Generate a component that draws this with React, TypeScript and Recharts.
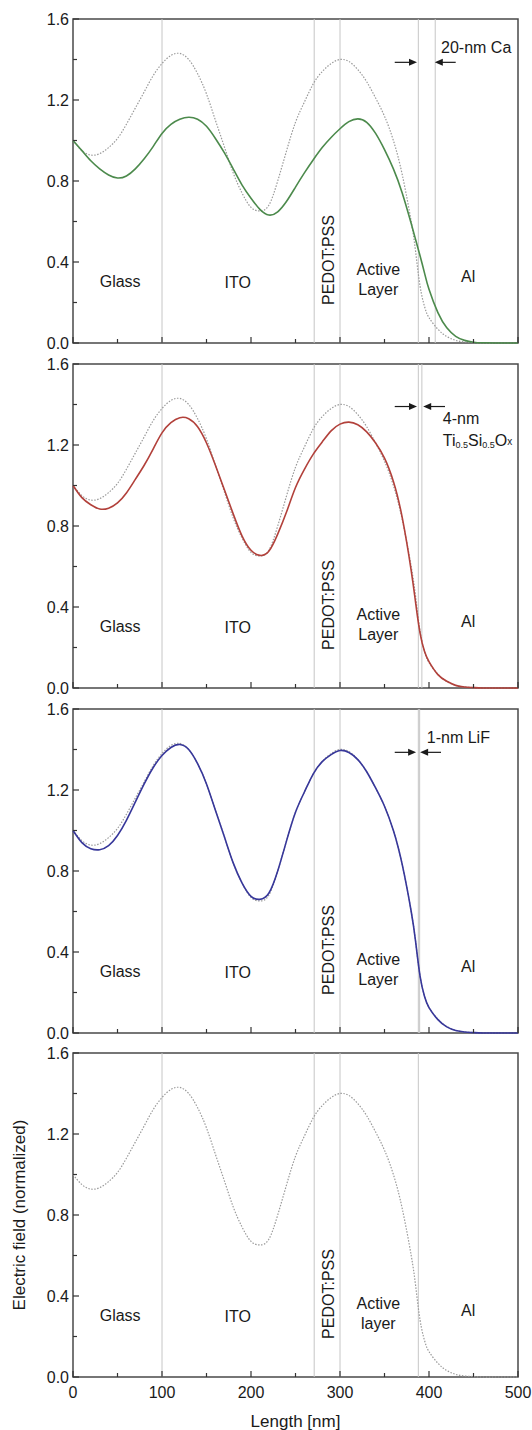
import React from "react";
import { LineChart, Line, XAxis, YAxis, ReferenceLine, ReferenceArea, ReferenceDot } from "recharts";

// position along the stack [nm]
const lengthNm = [
  0, 10, 20, 30, 40, 50, 60, 70, 80, 90, 100, 110, 120, 130, 140, 150, 160, 170, 180, 190, 200,
  210, 220, 230, 240, 250, 260, 270, 280, 290, 300, 310, 320, 330, 340, 350, 360, 370, 380, 385,
  390, 395, 400, 410, 420, 430, 440, 450, 460, 480, 500,
];

// normalized electric field, device without interlayer (dotted reference)
const noInterlayer = [
  1.0, 0.95, 0.928, 0.935, 0.965, 1.01, 1.08, 1.16, 1.24, 1.32, 1.38, 1.42, 1.43, 1.4, 1.33, 1.23,
  1.1, 0.97, 0.84, 0.74, 0.67, 0.652, 0.68, 0.8, 0.95, 1.09, 1.19, 1.28, 1.34, 1.38, 1.4, 1.39,
  1.35, 1.29, 1.21, 1.12, 1.0, 0.83, 0.6, 0.45, 0.28, 0.18, 0.125, 0.068, 0.032, 0.013, 0.005,
  0.002, 0, 0, 0,
];

// 20-nm Ca interlayer
const withCa = [
  1.0, 0.95, 0.9, 0.86, 0.83, 0.815, 0.825, 0.86, 0.91, 0.97, 1.035, 1.08, 1.105, 1.115, 1.105,
  1.07, 1.01, 0.94, 0.86, 0.78, 0.715, 0.66, 0.632, 0.648, 0.7, 0.77, 0.84, 0.905, 0.965, 1.015, 1.058,
  1.093, 1.107, 1.09, 1.035, 0.955, 0.86, 0.74, 0.59, 0.51, 0.43, 0.345, 0.265, 0.15, 0.075, 0.033,
  0.013, 0.004, 0.001, 0, 0,
];

// 4-nm Ti0.5Si0.5Ox interlayer
const withTiSiOx = [
  1.0, 0.94, 0.905, 0.884, 0.888, 0.914, 0.963, 1.03, 1.1, 1.18, 1.26, 1.31, 1.335, 1.33, 1.29,
  1.21, 1.1, 0.98, 0.86, 0.75, 0.68, 0.655, 0.675, 0.76, 0.87, 0.99, 1.08, 1.155, 1.215, 1.27, 1.303,
  1.313, 1.3, 1.265, 1.21, 1.135, 1.02, 0.84, 0.58, 0.42, 0.27, 0.18, 0.13, 0.066, 0.033, 0.013,
  0.005, 0.002, 0, 0, 0,
];

// 1-nm LiF interlayer
const withLiF = [
  1.0, 0.94, 0.91, 0.905, 0.925, 0.975, 1.05, 1.14, 1.23, 1.31, 1.37, 1.41, 1.425, 1.4, 1.33,
  1.23, 1.1, 0.97, 0.84, 0.74, 0.675, 0.66, 0.69, 0.8, 0.95, 1.09, 1.19, 1.28, 1.34, 1.375, 1.395,
  1.385, 1.35, 1.29, 1.21, 1.12, 1.0, 0.83, 0.6, 0.45, 0.28, 0.18, 0.125, 0.066, 0.03, 0.012,
  0.005, 0.002, 0, 0, 0,
];

const xTicks = [0, 50, 100, 150, 200, 250, 300, 350, 400, 450, 500];
const yTicks = [0, 0.2, 0.4, 0.6, 0.8, 1.0, 1.2, 1.4, 1.6];
const layerEdges = [100, 271, 300, 388];

const FONT = "'Liberation Sans', Arial, Helvetica, sans-serif";
const INK = "#1a1a1a";

type Arrow = { from: number; to: number };
type Panel = {
  series?: number[];
  color?: string;
  interlayerEnd?: number;
  arrowY?: number;
  arrows?: Arrow[];
  note?: "ca" | "tisiox" | "lif";
  activeWord: string;
};

const panels: Panel[] = [
  { series: withCa, color: "#4c8a4c", interlayerEnd: 407, arrowY: 1.386, arrows: [{ from: 361.5, to: 386.5 }, { from: 430, to: 406.5 }], note: "ca", activeWord: "Layer" },
  { series: withTiSiOx, color: "#b2413b", interlayerEnd: 392, arrowY: 1.39, arrows: [{ from: 361.5, to: 386.5 }, { from: 418, to: 393.5 }], note: "tisiox", activeWord: "Layer" },
  { series: withLiF, color: "#37379a", interlayerEnd: 389.5, arrowY: 1.386, arrows: [{ from: 361.5, to: 385.5 }, { from: 413.5, to: 390 }], note: "lif", activeWord: "Layer" },
  { activeWord: "layer" },
];

const plotTops = [19, 364, 709, 1053];

function arrowShape(props: any) {
  const { x1, y1, x2, y2 } = props;
  const dir = x2 > x1 ? 1 : -1;
  return (
    <g>
      <line x1={x1} y1={y1} x2={x2 - dir * 6} y2={y2} stroke={INK} strokeWidth={1.2} />
      <polygon points={`${x2},${y2} ${x2 - dir * 8},${y2 - 3.5} ${x2 - dir * 8},${y2 + 3.5}`} fill={INK} />
    </g>
  );
}

function textDot(key: string, x: number, y: number, render: (cx: number, cy: number) => React.ReactElement) {
  return (
    <ReferenceDot
      key={key}
      x={x}
      y={y}
      r={0}
      ifOverflow="visible"
      shape={(p: any) => render(p.cx, p.cy)}
    />
  );
}

const plainText = (s: string, anchor: "middle" | "start" = "middle") => (cx: number, cy: number) => (
  <text x={cx} y={cy} textAnchor={anchor} dominantBaseline="central" fontSize={16} fontFamily={FONT} fill={INK}>
    {s}
  </text>
);

const makeXTick = (withLabels: boolean) => (props: any) => {
  const { x, y, payload } = props;
  const major = payload.value % 100 === 0;
  return (
    <g>
      <line x1={x} y1={y} x2={x} y2={y - (major ? 6 : 4)} stroke="#333" strokeWidth={1.2} />
      {withLabels && major && (
        <text x={x} y={y + 21} textAnchor="middle" fontSize={16} fontFamily={FONT} fill={INK}>
          {payload.value}
        </text>
      )}
    </g>
  );
};

function YTick(props: any) {
  const { x, y, payload } = props;
  const i = yTicks.indexOf(payload.value);
  const major = i % 2 === 0;
  return (
    <g>
      <line x1={x} y1={y} x2={x + (major ? 6 : 4)} y2={y} stroke="#333" strokeWidth={1.2} />
      {major && (
        <text x={x - 4} y={y} textAnchor="end" dominantBaseline="central" fontSize={16} fontFamily={FONT} fill={INK}>
          {payload.value.toFixed(1)}
        </text>
      )}
    </g>
  );
}

function XTitle(props: any) {
  const vb = props.viewBox || { x: 73, y: 0, width: 445 };
  return (
    <text x={vb.x + vb.width / 2} y={vb.y + 50} textAnchor="middle" fontSize={17} fontFamily={FONT} fill={INK}>
      Length [nm]
    </text>
  );
}

function YTitle(props: any) {
  const vb = props.viewBox || { y: 10, height: 324 };
  const cx = 19;
  const cy = vb.y + vb.height / 2;
  return (
    <text x={cx} y={cy} transform={`rotate(-90 ${cx} ${cy})`} textAnchor="middle" dominantBaseline="central" fontSize={17} fontFamily={FONT} fill={INK}>
      Electric field (normalized)
    </text>
  );
}

function PanelChart({ panel, top, last }: { panel: Panel; top: number; last: boolean }) {
  const data = lengthNm.map((nm, i) => ({
    nm,
    ref: noInterlayer[i],
    val: panel.series ? panel.series[i] : null,
  }));
  const xAxisH = last ? 53 : 14;
  const height = 10 + 324 + xAxisH;
  const edges = panel.interlayerEnd ? [...layerEdges, panel.interlayerEnd] : layerEdges;

  return (
    <div style={{ position: "absolute", left: 0, top: top - 10 }}>
      <LineChart width={532} height={height} data={data} margin={{ top: 10, right: 14, bottom: 0, left: 0 }}>
        <XAxis
          dataKey="nm"
          type="number"
          domain={[0, 500]}
          ticks={xTicks}
          interval={0}
          axisLine={false}
          tickLine={false}
          tickSize={0}
          tickMargin={0}
          height={xAxisH}
          tick={makeXTick(last)}
          label={last ? <XTitle /> : undefined}
        />
        <YAxis
          type="number"
          domain={[0, 1.6]}
          ticks={yTicks}
          interval={0}
          axisLine={false}
          tickLine={false}
          tickSize={0}
          tickMargin={0}
          width={73}
          tick={YTick}
          label={last ? <YTitle /> : undefined}
        />
        {edges.map((e) => (
          <ReferenceLine key={`edge-${e}`} x={e} stroke="#c6c6c6" strokeWidth={1} />
        ))}
        <Line
          dataKey="ref"
          type="natural"
          stroke="#9a9a9a"
          strokeWidth={1.2}
          strokeDasharray="1.5 1.5"
          dot={false}
          isAnimationActive={false}
        />
        {panel.series && (
          <Line dataKey="val" type="natural" stroke={panel.color} strokeWidth={1.6} dot={false} isAnimationActive={false} />
        )}
        <ReferenceArea x1={0} x2={500} y1={0} y2={1.6} fill="none" stroke="#4a4a4a" strokeWidth={1.5} />

        {textDot("glass", 53, 0.305, plainText("Glass"))}
        {textDot("ito", 185, 0.3, plainText("ITO"))}
        {textDot("pedot", 287, 0.41, (cx, cy) => (
          <text x={cx} y={cy} transform={`rotate(-90 ${cx} ${cy})`} textAnchor="middle" dominantBaseline="central" fontSize={16} fontFamily={FONT} fill={INK}>
            PEDOT:PSS
          </text>
        ))}
        {textDot("active", 343, 0.362, plainText("Active"))}
        {textDot("layer", 343, 0.265, plainText(panel.activeWord))}
        {textDot("al", 444, 0.33, plainText("Al"))}

        {panel.arrows &&
          panel.arrows.map((a, i) => (
            <ReferenceLine
              key={`arrow-${i}`}
              segment={[
                { x: a.from, y: panel.arrowY },
                { x: a.to, y: panel.arrowY },
              ]}
              ifOverflow="visible"
              shape={arrowShape}
            />
          ))}

        {panel.note === "ca" && textDot("ca", 453, 1.457, plainText("20-nm Ca"))}
        {panel.note === "lif" && textDot("lif", 433, 1.46, plainText("1-nm LiF"))}
        {panel.note === "tisiox" && textDot("tisi1", 415.5, 1.333, plainText("4-nm", "start"))}
        {panel.note === "tisiox" &&
          textDot("tisi2", 415.5, 1.226, (cx, cy) => (
            <text x={cx} y={cy} dominantBaseline="central" fontSize={16} fontFamily={FONT} fill={INK}>
              <tspan>Ti</tspan>
              <tspan fontSize={9} dy={5}>0.5</tspan>
              <tspan dy={-5}>Si</tspan>
              <tspan fontSize={9} dy={5}>0.5</tspan>
              <tspan dy={-5}>O</tspan>
              <tspan fontSize={10} dy={1}>x</tspan>
            </text>
          ))}
      </LineChart>
    </div>
  );
}

export default function App() {
  return (
    <div style={{ position: "absolute", left: 0, top: 0, width: 532, height: 1430, background: "#fff" }}>
      {panels.map((p, i) => (
        <PanelChart key={i} panel={p} top={plotTops[i]} last={i === panels.length - 1} />
      ))}
    </div>
  );
}
